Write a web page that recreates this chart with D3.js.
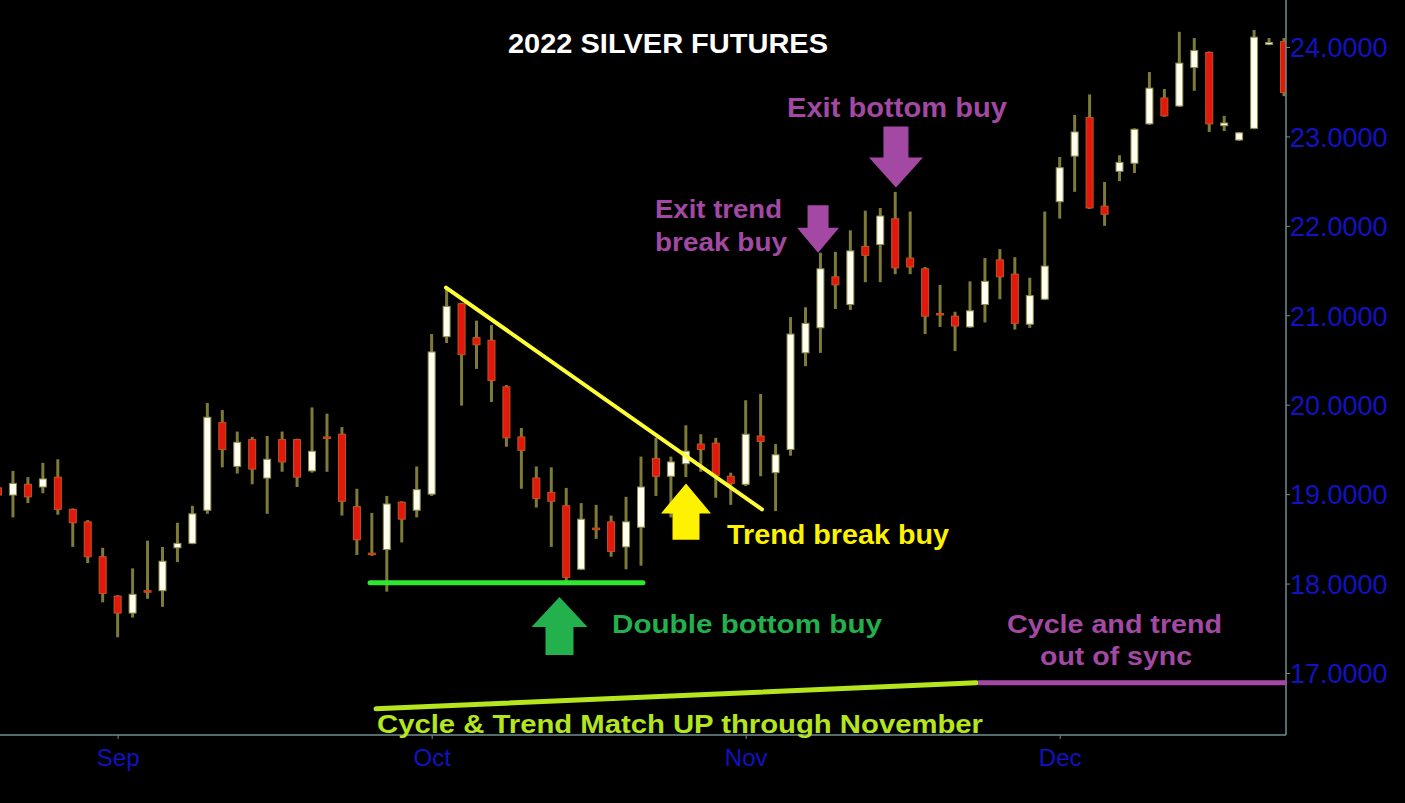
<!DOCTYPE html>
<html><head><meta charset="utf-8">
<script src="https://cdn.jsdelivr.net/npm/d3@7"></script>
<style>html,body{margin:0;padding:0;background:#000;overflow:hidden}</style>
</head><body>
<svg id="chart" width="1405" height="803"></svg>
<script>
// ---- DATA ----
const dates = [
  "2022-08-22","2022-08-23","2022-08-24","2022-08-25","2022-08-26","2022-08-29","2022-08-30","2022-08-31",
  "2022-09-01","2022-09-02","2022-09-06","2022-09-07","2022-09-08","2022-09-09","2022-09-12","2022-09-13","2022-09-14","2022-09-15","2022-09-16","2022-09-19","2022-09-20","2022-09-21","2022-09-22","2022-09-23","2022-09-26","2022-09-27","2022-09-28","2022-09-29","2022-09-30",
  "2022-10-03","2022-10-04","2022-10-05","2022-10-06","2022-10-07","2022-10-10","2022-10-11","2022-10-12","2022-10-13","2022-10-14","2022-10-17","2022-10-18","2022-10-19","2022-10-20","2022-10-21","2022-10-24","2022-10-25","2022-10-26","2022-10-27","2022-10-28","2022-10-31",
  "2022-11-01","2022-11-02","2022-11-03","2022-11-04","2022-11-07","2022-11-08","2022-11-09","2022-11-10","2022-11-11","2022-11-14","2022-11-15","2022-11-16","2022-11-17","2022-11-18","2022-11-21","2022-11-22","2022-11-23","2022-11-25","2022-11-28","2022-11-29","2022-11-30",
  "2022-12-01","2022-12-02","2022-12-05","2022-12-06","2022-12-07","2022-12-08","2022-12-09","2022-12-12","2022-12-13","2022-12-14","2022-12-15","2022-12-16","2022-12-19","2022-12-20","2022-12-21","2022-12-22"
];
const open = [
  19.07,18.99,19.11,19.08,19.19,18.83,18.69,18.30,
  17.86,17.67,17.92,17.92,18.40,18.45,18.82,19.80,19.31,19.61,19.18,19.61,19.61,19.26,19.64,19.67,18.86,18.34,18.38,18.91,18.82,
  19.00,20.76,21.13,20.75,20.72,20.20,19.64,19.18,19.02,18.87,18.16,18.62,18.69,18.41,18.63,19.40,19.20,19.34,19.56,19.57,19.20,
  19.11,19.65,19.24,19.50,20.58,20.86,21.43,21.12,21.77,21.79,22.08,21.64,21.52,21.02,20.99,20.87,21.12,21.62,21.46,20.90,21.18,
  22.27,22.78,23.21,22.22,22.61,22.70,23.14,23.43,23.34,23.77,23.94,23.12,22.96,23.09,24.03,24.06
];
const high = [
  19.12,19.26,19.19,19.35,19.39,18.84,18.71,18.40,
  17.87,18.17,18.48,18.41,18.68,18.87,20.02,19.94,19.70,19.64,19.65,19.70,19.62,19.97,19.90,19.75,19.06,18.79,18.98,18.92,19.31,
  20.79,21.31,21.14,20.94,20.89,20.22,19.74,19.31,19.30,19.07,18.90,18.88,18.76,18.97,19.42,19.63,19.42,19.77,19.67,19.63,19.24,
  20.05,20.12,19.56,20.98,21.09,21.70,21.71,21.95,22.17,22.20,22.38,22.16,21.54,21.34,21.04,21.38,21.64,21.74,21.65,21.42,22.16,
  22.77,23.24,23.47,22.49,22.79,23.09,23.72,23.53,24.17,24.10,23.95,23.23,23.05,24.19,24.10,24.10
];
const low = [
  18.95,18.74,18.90,19.01,18.77,18.41,18.23,17.79,
  17.40,17.62,17.83,17.74,18.24,18.44,18.78,19.30,19.23,19.11,18.78,19.25,19.08,19.24,19.25,18.76,18.32,18.31,17.91,18.46,18.74,
  18.98,20.69,19.99,20.40,20.03,19.53,19.06,18.85,18.41,18.01,18.15,18.50,18.30,18.16,18.20,18.98,18.74,19.19,19.25,18.96,18.88,
  19.09,19.20,18.81,19.43,20.43,20.58,21.07,21.06,21.37,21.37,21.46,21.46,20.79,20.87,20.60,20.86,20.92,21.18,20.84,20.86,21.17,
  22.08,22.38,22.19,22.00,22.50,22.59,23.13,23.22,23.33,23.51,23.05,23.06,22.95,23.08,24.02,23.45
];
const close = [
  18.99,19.12,18.97,19.17,18.83,18.68,18.30,17.89,
  17.67,17.88,17.91,18.25,18.45,18.78,19.86,19.50,19.58,19.28,19.39,19.36,19.19,19.48,19.63,18.92,18.49,18.33,18.89,18.72,19.05,
  20.59,21.10,20.56,20.67,20.27,19.63,19.49,18.95,18.92,18.07,18.72,18.61,18.36,18.69,19.08,19.20,19.36,19.48,19.50,19.21,19.12,
  19.67,19.59,19.44,20.79,20.91,21.52,21.34,21.72,21.67,22.11,21.53,21.54,20.99,21.01,20.88,21.05,21.38,21.43,20.91,21.22,21.55,
  22.65,23.05,22.20,22.13,22.71,23.08,23.54,23.23,23.82,23.96,23.14,23.15,23.04,24.11,24.05,23.49
];
const priceTicks = [17, 18, 19, 20, 21, 22, 23, 24];

// annotation geometry in (bar index, price) terms
const trendLine   = [[29.96, 21.31], [51.09, 18.83]];
const supportLine = [[24.88, 18.01], [43.13, 18.01]];
const cycleLine   = [[25.28, 16.60], [65.41, 16.89]];
const syncLine    = [[65.54, 16.89], [86.20, 16.89]];
const arrowsData = [
  {i: 37.55, tip: 17.85, tail: 17.20, color: "#22b14c", head: 28, shaft: 14, len: 30},
  {i: 46.01, tip: 19.12, tail: 18.49, color: "#fff200", head: 25, shaft: 13.5, len: 30},
  {i: 54.84, tip: 21.70, tail: 22.23, color: "#a349a4", head: 21, shaft: 10.5, len: 25},
  {i: 60.05, tip: 22.43, tail: 23.11, color: "#a349a4", head: 27, shaft: 12.5, len: 30}
];

// ---- CHART ----
const W = 1405, H = 803;
const plotRight = 1286, plotBottom = 735;
const svg = d3.select("#chart");
svg.append("rect").attr("width", W).attr("height", H).attr("fill", "#000");

const x = d3.scaleLinear().domain([0, dates.length - 1]).range([-2, 1284]);
const y = d3.scaleLinear().domain([17, 24]).range([673, 47]);
const parse = d3.timeParse("%Y-%m-%d");
const dts = dates.map(parse);
const fmtMonth = d3.timeFormat("%b");

const axisColor = "#6f8f8f";
const blue = "#1212c2";

svg.append("defs").append("clipPath").attr("id", "plot")
  .append("rect").attr("x", 0).attr("y", 0).attr("width", plotRight).attr("height", plotBottom);

const bars = dates.map((d, i) => ({i, o: open[i], h: high[i], l: low[i], c: close[i]}));
const g = svg.append("g").attr("clip-path", "url(#plot)");

g.selectAll("line.wick").data(bars).join("line").attr("class", "wick")
  .attr("x1", d => x(d.i)).attr("x2", d => x(d.i))
  .attr("y1", d => y(d.h)).attr("y2", d => y(d.l))
  .attr("stroke", "#7e7a38").attr("stroke-width", 3);

g.selectAll("rect.body").data(bars).join("rect").attr("class", "body")
  .attr("x", d => x(d.i) - 3.5).attr("width", 7)
  .attr("y", d => y(Math.max(d.o, d.c)))
  .attr("height", d => Math.max(1.5, Math.abs(y(d.o) - y(d.c))))
  .attr("fill", d => d.c >= d.o ? "#fffff0" : "#e2180e")
  .attr("stroke", d => d.c >= d.o ? "#8d8a4c" : "#c4561c")
  .attr("stroke-width", 1);

// axes
svg.append("line").attr("x1", plotRight).attr("x2", plotRight).attr("y1", 0).attr("y2", plotBottom)
  .attr("stroke", axisColor).attr("stroke-width", 1.5);
svg.append("line").attr("x1", 0).attr("x2", plotRight).attr("y1", plotBottom).attr("y2", plotBottom)
  .attr("stroke", axisColor).attr("stroke-width", 1.5);

const yAxis = d3.axisRight(y).tickValues(priceTicks).tickSize(4).tickFormat(d3.format(".4f"));
const ya = svg.append("g").attr("transform", `translate(${plotRight},0)`).call(yAxis);
ya.select(".domain").remove();
ya.selectAll(".tick line").attr("stroke", axisColor);
ya.selectAll(".tick text").attr("fill", blue).attr("font-family", "Liberation Sans, Arial, sans-serif")
  .attr("font-size", 27).attr("x", 4).attr("dy", "0.36em");

const monthIdx = dts.map((d, i) => i).filter(i => i > 0 && dts[i].getMonth() !== dts[i - 1].getMonth());
const xAxis = d3.axisBottom(x).tickValues(monthIdx).tickSize(4).tickFormat(i => fmtMonth(dts[i]));
const xa = svg.append("g").attr("transform", `translate(0,${plotBottom})`).call(xAxis);
xa.select(".domain").remove();
xa.selectAll(".tick line").attr("stroke", axisColor);
xa.selectAll(".tick text").attr("fill", blue).attr("font-family", "Liberation Sans, Arial, sans-serif")
  .attr("font-size", 24).attr("y", 14).attr("dy", "0.71em");

// annotation lines
const lineGen = d3.line().x(d => x(d[0])).y(d => y(d[1]));
const addLine = (pts, color, w) => svg.append("path").attr("d", lineGen(pts))
  .attr("stroke", color).attr("stroke-width", w).attr("fill", "none").attr("stroke-linecap", "round");
addLine(trendLine, "#ffff36", 4);
addLine(supportLine, "#2ee82e", 5);
addLine(cycleLine, "#b5e61d", 5);
svg.append("path").attr("d", lineGen(syncLine)).attr("stroke", "#a349a4").attr("stroke-width", 5).attr("fill", "none");

// arrows
arrowsData.forEach(a => {
  const cx = x(a.i), t = y(a.tip), b = y(a.tail);
  const s = b > t ? 1 : -1;
  const hy = t + s * a.len;
  const pts = [[cx, t], [cx + a.head, hy], [cx + a.shaft, hy], [cx + a.shaft, b],
               [cx - a.shaft, b], [cx - a.shaft, hy], [cx - a.head, hy]];
  svg.append("path").attr("d", d3.line()(pts) + "Z").attr("fill", a.color);
});

// texts
const font = "Liberation Sans, Arial, sans-serif";
const txt = (s, px, py, color, size, len, anchor) => {
  const t = svg.append("text").attr("x", px).attr("y", py).text(s)
    .attr("fill", color).attr("font-family", font).attr("font-weight", "bold")
    .attr("font-size", size).attr("text-anchor", anchor || "start");
  if (len) t.attr("textLength", len).attr("lengthAdjust", "spacingAndGlyphs");
  return t;
};
txt("2022 SILVER FUTURES", 508, 53, "#ffffff", 28, 320);
txt("Double bottom buy", 612, 633, "#22b14c", 26, 270);
txt("Trend break buy", 727, 544, "#fff200", 27, 222);
txt("Exit trend", 655, 218, "#a349a4", 26, 127);
txt("break buy", 655, 251, "#a349a4", 26, 132);
txt("Exit bottom buy", 787, 117, "#a349a4", 27, 220);
txt("Cycle and trend", 1007, 633, "#a349a4", 26, 215);
txt("out of sync", 1040, 665, "#a349a4", 26, 152);
txt("Cycle & Trend Match UP through November", 377, 733, "#b5e61d", 26, 606);
</script>
</body></html>
